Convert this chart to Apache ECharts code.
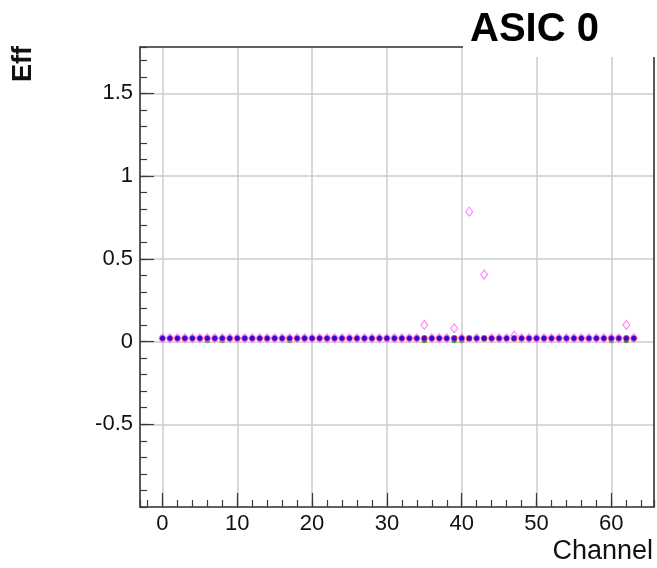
<!DOCTYPE html>
<html>
<head>
<meta charset="utf-8">
<script src="https://cdn.jsdelivr.net/npm/echarts@6/dist/echarts.min.js"></script>
<style>
html,body{margin:0;padding:0;background:#fff;}
#c{width:657px;height:568px;}
</style>
</head>
<body>
<div id="c"></div>
<script>
// ---- data ----
const channels = [0,1,2,3,4,5,6,7,8,9,10,11,12,13,14,15,16,17,18,19,20,21,22,23,24,25,26,27,28,29,30,31,
                  32,33,34,35,36,37,38,39,40,41,42,43,44,45,46,47,48,49,50,51,52,53,54,55,56,57,58,59,60,61,62,63];
const effGreen = [0.015,0.015,0.015,0.015,0.015,0.015,0.005,0.015,0.005,0.015,0.015,0.015,0.015,0.015,0.015,0.015,
                  0.015,0.005,0.015,0.015,0.015,0.015,0.015,0.015,0.015,0.015,0.015,0.015,0.015,0.015,0.015,0.015,
                  0.015,0.015,0.015,0.005,0.015,0.015,0.015,0.005,0.005,0.015,0.015,0.015,0.015,0.015,0.015,0.015,
                  0.015,0.015,0.015,0.015,0.015,0.015,0.015,0.015,0.015,0.015,0.015,0.015,0.005,0.015,0.005,0.015];
const effRed   = [0.02,0.02,0.02,0.02,0.02,0.02,0.02,0.02,0.02,0.02,0.02,0.02,0.02,0.02,0.02,0.02,
                  0.02,0.02,0.02,0.02,0.02,0.02,0.02,0.02,0.02,0.02,0.02,0.02,0.02,0.02,0.02,0.02,
                  0.02,0.02,0.02,0.02,0.02,0.02,0.02,0.02,0.02,0.02,0.02,0.02,0.02,0.02,0.02,0.02,
                  0.02,0.02,0.02,0.02,0.02,0.02,0.02,0.02,0.02,0.02,0.02,0.02,0.02,0.02,0.02,0.02];
const effMagenta = [0.02,0.02,0.02,0.02,0.02,0.02,0.02,0.02,0.02,0.02,0.02,0.02,0.02,0.02,0.02,0.02,
                    0.02,0.02,0.02,0.02,0.02,0.02,0.02,0.02,0.02,0.02,0.02,0.02,0.02,0.02,0.02,0.02,
                    0.02,0.02,0.02,0.10,0.02,0.02,0.02,0.08,0.02,0.785,0.02,0.405,0.02,0.02,0.02,0.035,
                    0.02,0.02,0.02,0.02,0.02,0.02,0.02,0.02,0.02,0.02,0.02,0.02,0.02,0.02,0.10,0.02];
const effBlue  = [0.02,0.02,0.02,0.02,0.02,0.02,0.02,0.02,0.02,0.02,0.02,0.02,0.02,0.02,0.02,0.02,
                  0.02,0.02,0.02,0.02,0.02,0.02,0.02,0.02,0.02,0.02,0.02,0.02,0.02,0.02,0.02,0.02,
                  0.02,0.02,0.02,0.02,0.02,0.02,0.02,0.02,0.02,0.02,0.02,0.02,0.02,0.02,0.02,0.02,
                  0.02,0.02,0.02,0.02,0.02,0.02,0.02,0.02,0.02,0.02,0.02,0.02,0.02,0.02,0.02,0.02];
const xTickLabels = [0, 10, 20, 30, 40, 50, 60];
const yTickLabels = [-0.5, 0, 0.5, 1, 1.5];
const titleText = 'ASIC 0';
const xTitle = 'Channel';
const yTitle = 'Eff';

// ---- styling / layout ----
const FONT = "'Liberation Sans', Arial, sans-serif";
const FRAME = '#3a3a3a';
const GRID = '#cdcdcd';
const XMIN = -3, XMAX = 65.7, YMIN = -1, YMAX = 1.78;

function pts(arr) { return channels.map((c, i) => [c, arr[i]]); }
function inList(list, v) { return list.some(t => Math.abs(t - v) < 1e-6); }

const chart = echarts.init(document.getElementById('c'), null, {renderer: 'canvas'});
const frameAxisCommon = {
  axisLabel: {show: false}, splitLine: {show: false}, z: 5
};
chart.setOption({
  animation: false,
  backgroundColor: '#fff',
  title: {
    text: titleText, left: 463, top: 0, padding: [7, 70, 4, 7],
    backgroundColor: '#fff', z: 20,
    textStyle: {fontFamily: FONT, fontWeight: 'bold', fontSize: 40, lineHeight: 46, color: '#000'}
  },
  grid: {left: 140, top: 47, right: 3, bottom: 61, show: false},
  xAxis: [
    { type: 'value', position: 'bottom', min: XMIN, max: XMAX, splitNumber: 7, z: 0,
      axisLine: {show: false, onZero: false},
      axisTick: {show: true, inside: true, length: 14, lineStyle: {color: FRAME, width: 1.2}},
      axisLabel: {margin: 6, fontFamily: FONT, fontSize: 22, color: '#111',
                  showMinLabel: false, showMaxLabel: false,
                  formatter: v => inList(xTickLabels, v) ? String(v) : ''},
      splitLine: {show: true, lineStyle: {color: GRID, width: 1.5}} },
    Object.assign({ type: 'value', position: 'bottom', min: XMIN, max: XMAX, splitNumber: 34,
      axisLine: {show: true, onZero: false, lineStyle: {color: FRAME, width: 1.6}},
      axisTick: {show: true, inside: true, length: 7, lineStyle: {color: FRAME, width: 1.2}} }, frameAxisCommon),
    Object.assign({ type: 'value', position: 'top', min: XMIN, max: XMAX,
      axisLine: {show: true, onZero: false, lineStyle: {color: FRAME, width: 1.6}},
      axisTick: {show: false} }, frameAxisCommon)
  ],
  yAxis: [
    { type: 'value', position: 'left', min: YMIN, max: YMAX, interval: 0.5, z: 0,
      axisLine: {show: false, onZero: false},
      axisTick: {show: true, inside: true, length: 14, lineStyle: {color: FRAME, width: 1.2}},
      axisLabel: {margin: 7, fontFamily: FONT, fontSize: 22, color: '#111',
                  showMinLabel: false, showMaxLabel: false,
                  formatter: v => inList(yTickLabels, v) ? String(v) : ''},
      splitLine: {show: true, lineStyle: {color: GRID, width: 1.5}} },
    Object.assign({ type: 'value', position: 'left', min: YMIN, max: YMAX, interval: 0.1,
      axisLine: {show: true, onZero: false, lineStyle: {color: FRAME, width: 1.6}},
      axisTick: {show: true, inside: true, length: 7, lineStyle: {color: FRAME, width: 1.2}} }, frameAxisCommon),
    Object.assign({ type: 'value', position: 'right', min: YMIN, max: YMAX,
      axisLine: {show: true, onZero: false, lineStyle: {color: FRAME, width: 1.6}},
      axisTick: {show: false} }, frameAxisCommon)
  ],
  graphic: [
    { type: 'text', x: 653, y: 552, z: 20,
      style: {text: xTitle, fontFamily: FONT, fontSize: 27, fill: '#111',
              align: 'right', textAlign: 'right', verticalAlign: 'middle', textVerticalAlign: 'middle'} },
    { type: 'text', x: 24, y: 64, rotation: Math.PI / 2, z: 20,
      style: {text: yTitle, fontFamily: FONT, fontWeight: 'bold', fontSize: 27, fill: '#111',
              align: 'center', textAlign: 'center', verticalAlign: 'middle', textVerticalAlign: 'middle'} }
  ],
  series: [
    { name: 'green', type: 'scatter', data: pts(effGreen), symbol: 'circle', symbolSize: 5,
      itemStyle: {color: '#009900'} },
    { name: 'red', type: 'scatter', data: pts(effRed), symbol: 'circle', symbolSize: 6.5,
      itemStyle: {color: '#ff1a1a'} },
    { name: 'magenta', type: 'scatter', data: pts(effMagenta), symbol: 'diamond', symbolSize: [7, 9],
      itemStyle: {color: 'rgba(0,0,0,0)', borderColor: '#ff66ff', borderWidth: 1.1} },
    { name: 'blue', type: 'scatter', data: pts(effBlue), symbol: 'circle', symbolSize: 5,
      itemStyle: {color: '#0000ff'} }
  ]
});
</script>
</body>
</html>
